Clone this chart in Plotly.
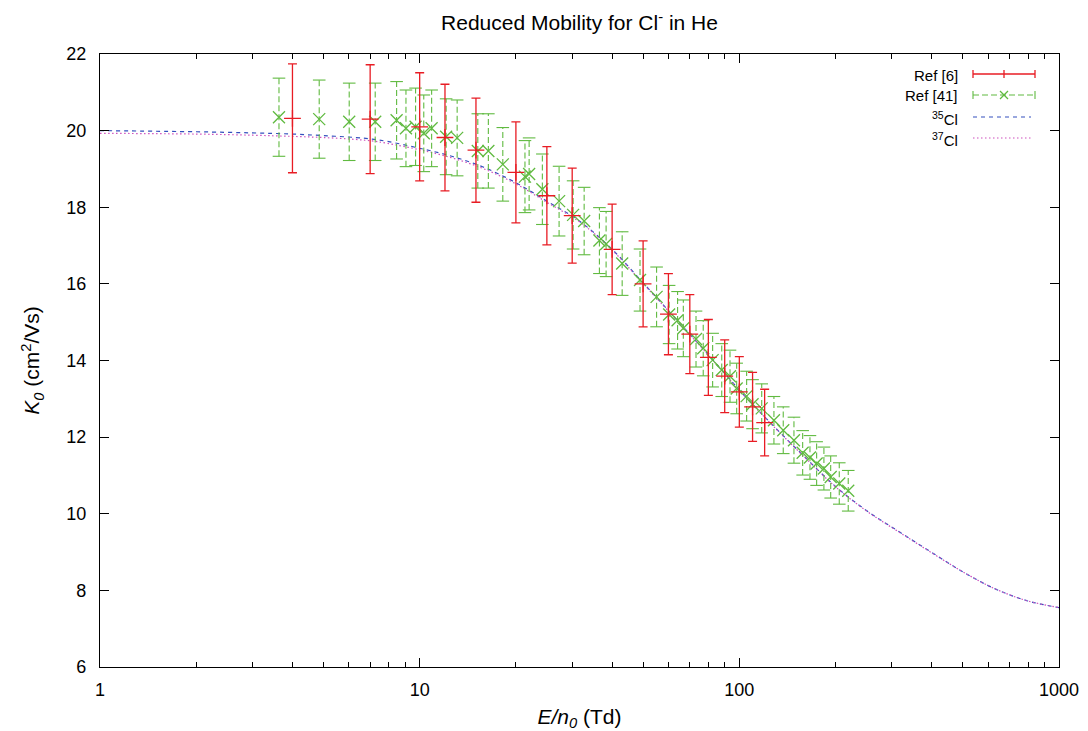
import plotly.graph_objects as go

# ---------------- data ----------------
E_ref6 = [4, 7, 10, 12, 15, 20, 25, 30, 40, 50, 60, 70, 80, 90, 100, 110, 120]
K_ref6 = [20.32, 20.30, 20.10, 19.82, 19.49, 18.91, 18.30, 17.78, 16.90, 16.00,
          15.21, 14.69, 14.08, 13.59, 13.18, 12.79, 12.38]
err_ref6 = [1.42, 1.42, 1.41, 1.39, 1.36, 1.32, 1.28, 1.24, 1.18, 1.12,
            1.06, 1.03, 0.99, 0.95, 0.92, 0.90, 0.87]

E_ref41 = [3.63, 4.85, 6.02, 7.26, 8.47, 9.06, 9.71, 10.3, 10.9, 12.1,
           13.1, 15.2, 16.4, 18.2, 21.35, 22.0, 24.2, 27.3, 30.2, 32.7,
           36.5, 38.3, 43.0, 48.9, 55.1, 60.3, 64.1, 66.8, 73.2, 77.1,
           82.5, 88.1, 93.5, 98.1, 105.4, 110, 117.5, 128.3, 137.2, 148.2,
           157.8, 166.3, 174.5, 183.9, 193.1, 205.4, 219.1]
K_ref41 = [20.35, 20.30, 20.23, 20.23, 20.27, 20.06, 20.10, 19.93, 20.06, 19.84,
           19.81, 19.47, 19.47, 19.12, 18.80, 18.87, 18.47, 18.16, 17.80, 17.64,
           17.13, 17.04, 16.53, 16.10, 15.66, 15.20, 15.05, 14.84, 14.56, 14.32,
           14.01, 13.75, 13.59, 13.27, 13.07, 12.86, 12.75, 12.44, 12.18, 11.92,
           11.59, 11.47, 11.31, 11.18, 10.96, 10.79, 10.60]
err_ref41 = [1.02, 1.02, 1.01, 1.01, 1.01, 1.00, 1.01, 1.00, 1.00, 0.99,
             0.99, 0.97, 0.97, 0.96, 0.94, 0.94, 0.92, 0.91, 0.89, 0.88,
             0.86, 0.85, 0.83, 0.81, 0.78, 0.76, 0.75, 0.74, 0.73, 0.72,
             0.70, 0.69, 0.68, 0.66, 0.65, 0.64, 0.64, 0.62, 0.61, 0.60,
             0.58, 0.57, 0.57, 0.56, 0.55, 0.54, 0.53]

E_theory = [1, 2, 3, 4, 5, 6.3, 7.1, 7.9, 10, 12.6, 15.8, 20, 25.1, 31.6, 39.8,
            50.1, 63.1, 79.4, 100, 125.9, 158.5, 199.5, 251.2, 316.2, 398.1,
            501.2, 631, 794.3, 1000]
K_35Cl = [20.00, 19.97, 19.94, 19.91, 19.87, 19.82, 19.78, 19.72, 19.54, 19.33,
          19.05, 18.64, 18.15, 17.64, 16.92, 16.02, 15.10, 14.18, 13.23, 12.35,
          11.52, 10.72, 10.07, 9.53, 9.00, 8.48, 8.04, 7.73, 7.55]
K_37Cl = [19.93, 19.91, 19.88, 19.85, 19.82, 19.77, 19.73, 19.67, 19.50, 19.29,
          19.01, 18.61, 18.12, 17.62, 16.90, 16.00, 15.09, 14.17, 13.22, 12.34,
          11.51, 10.71, 10.06, 9.52, 8.99, 8.48, 8.04, 7.73, 7.55]

x_tickvals = [1, 10, 100, 1000]
x_ticktext = ["1", "10", "100", "1000"]
x_minor = [2, 3, 4, 5, 6, 7, 8, 9, 20, 30, 40, 50, 60, 70, 80, 90,
           200, 300, 400, 500, 600, 700, 800, 900]
y_tickvals = [6, 8, 10, 12, 14, 16, 18, 20, 22]

legend_labels = ["Ref [6]", "Ref [41]", "<sup>35</sup>Cl", "<sup>37</sup>Cl"]

# ---------------- styles ----------------
RED = "rgb(232,28,36)"
GREEN = "rgb(96,186,64)"
BLUE = "rgb(52,80,190)"
PINK = "rgb(206,80,190)"
FONT = "Liberation Sans, Arial, Helvetica, sans-serif"

fig = go.Figure()

# theory curves
fig.add_trace(go.Scatter(x=E_theory, y=K_35Cl, mode="lines",
                         line=dict(color=BLUE, width=1.2, dash="4px,4px", shape="spline"),
                         showlegend=False, hoverinfo="skip"))
fig.add_trace(go.Scatter(x=E_theory, y=K_37Cl, mode="lines",
                         line=dict(color=PINK, width=1.2, dash="1.5px,2.5px", shape="spline"),
                         showlegend=False, hoverinfo="skip"))

# Ref [41]: dashed vertical error bars, caps, x markers
seg_x, seg_y, cap_x, cap_y = [], [], [], []
for e, k, d in zip(E_ref41, K_ref41, err_ref41):
    seg_x += [e, e, None]
    seg_y += [k - d, k + d, None]
    cap_x += [e, e]
    cap_y += [k - d, k + d]
fig.add_trace(go.Scatter(x=seg_x, y=seg_y, mode="lines",
                         line=dict(color=GREEN, width=1.1, dash="6px,3px"),
                         showlegend=False, hoverinfo="skip"))
fig.add_trace(go.Scatter(x=cap_x, y=cap_y, mode="markers",
                         marker=dict(symbol="line-ew", size=9, color=GREEN,
                                     line=dict(color=GREEN, width=1.1)),
                         showlegend=False, hoverinfo="skip"))
fig.add_trace(go.Scatter(x=E_ref41, y=K_ref41, mode="markers",
                         marker=dict(symbol="x-thin", size=12, color=GREEN,
                                     line=dict(color=GREEN, width=1.3)),
                         name="Ref [41]", showlegend=False))

# Ref [6]: solid error bars with + markers
fig.add_trace(go.Scatter(x=E_ref6, y=K_ref6, mode="markers",
                         marker=dict(symbol="cross-thin", size=12, color=RED,
                                     line=dict(color=RED, width=1.3)),
                         error_y=dict(type="data", array=err_ref6, visible=True,
                                      color=RED, thickness=1.3, width=4.5),
                         name="Ref [6]", showlegend=False))

# ---------------- manual gnuplot-style legend ----------------
# (page pixel positions of the plot frame: x 100..1059, y 54..667)
def px_x(p):
    return (p - 100) / 959.0

def px_y(p):
    return (667 - p) / 613.0

rows = [74, 95, 117, 138]
text_right = px_x(960)
lx0, lx1, lxc = px_x(973), px_x(1035), px_x(1004)
cap_h = 4 / 613.0
shapes = []
annotations = []
for lbl, r in zip(legend_labels, rows):
    annotations.append(dict(xref="paper", yref="paper", x=text_right, y=px_y(r + 1),
                            text=lbl, showarrow=False, xanchor="right", yanchor="middle",
                            font=dict(family=FONT, size=15, color="black")))
# Ref [6]
y0 = px_y(rows[0])
shapes.append(dict(type="line", xref="paper", yref="paper", x0=lx0, x1=lx1, y0=y0, y1=y0,
                   line=dict(color=RED, width=1.3)))
for xx in (lx0, lx1, lxc):
    shapes.append(dict(type="line", xref="paper", yref="paper", x0=xx, x1=xx,
                       y0=y0 - cap_h, y1=y0 + cap_h, line=dict(color=RED, width=1.3)))
# Ref [41]
y1 = px_y(rows[1])
shapes.append(dict(type="line", xref="paper", yref="paper", x0=lx0, x1=lx1, y0=y1, y1=y1,
                   line=dict(color=GREEN, width=1.1, dash="6px,3px")))
for xx in (lx0, lx1):
    shapes.append(dict(type="line", xref="paper", yref="paper", x0=xx, x1=xx,
                       y0=y1 - cap_h, y1=y1 + cap_h, line=dict(color=GREEN, width=1.1)))
dx = 4 / 959.0
dy = 4 / 613.0
shapes.append(dict(type="line", xref="paper", yref="paper", x0=lxc - dx, x1=lxc + dx,
                   y0=y1 - dy, y1=y1 + dy, line=dict(color=GREEN, width=1.3)))
shapes.append(dict(type="line", xref="paper", yref="paper", x0=lxc - dx, x1=lxc + dx,
                   y0=y1 + dy, y1=y1 - dy, line=dict(color=GREEN, width=1.3)))
# 35Cl / 37Cl
y2 = px_y(rows[2])
shapes.append(dict(type="line", xref="paper", yref="paper", x0=lx0, x1=px_x(1031), y0=y2, y1=y2,
                   line=dict(color=BLUE, width=1.2, dash="4px,4px")))
y3 = px_y(rows[3])
shapes.append(dict(type="line", xref="paper", yref="paper", x0=lx0, x1=px_x(1033), y0=y3, y1=y3,
                   line=dict(color=PINK, width=1.2, dash="1.5px,2.5px")))

fig.update_layout(
    width=1088, height=731, autosize=False,
    paper_bgcolor="white", plot_bgcolor="white",
    margin=dict(l=92, r=37, t=46, b=72, autoexpand=False),
    font=dict(family=FONT, size=18, color="black"),
    title=dict(text="Reduced Mobility for Cl<sup>-</sup> in He",
               x=0.5, xref="paper", y=1 - 15 / 731, yref="container",
               xanchor="center", yanchor="middle",
               font=dict(family=FONT, size=21, color="black")),
    showlegend=False,
    shapes=shapes, annotations=annotations,
)
fig.update_xaxes(type="log", range=[0, 3], automargin=False,
                 tickmode="array", tickvals=x_tickvals, ticktext=x_ticktext,
                 ticks="inside", ticklen=9, tickwidth=1, tickcolor="black",
                 ticklabelstandoff=6,
                 minor=dict(tickmode="array", tickvals=x_minor, ticks="inside",
                            ticklen=5, tickwidth=1, tickcolor="black", showgrid=False),
                 showline=True, linecolor="black", linewidth=1.3, mirror="allticks",
                 showgrid=False, zeroline=False,
                 tickfont=dict(family=FONT, size=18),
                 title=dict(text="<i>E/n<sub>0</sub></i> (Td)", standoff=10,
                            font=dict(family=FONT, size=21)))
fig.update_yaxes(range=[6, 22], automargin=False,
                 tickmode="array", tickvals=y_tickvals,
                 ticks="inside", ticklen=9, tickwidth=1, tickcolor="black",
                 ticklabelstandoff=9,
                 showline=True, linecolor="black", linewidth=1.3, mirror="allticks",
                 showgrid=False, zeroline=False,
                 tickfont=dict(family=FONT, size=18),
                 title=dict(text="<i>K<sub>0</sub></i> (cm<sup>2</sup>/Vs)", standoff=20,
                            font=dict(family=FONT, size=21)))

fig.write_html("out.html")
